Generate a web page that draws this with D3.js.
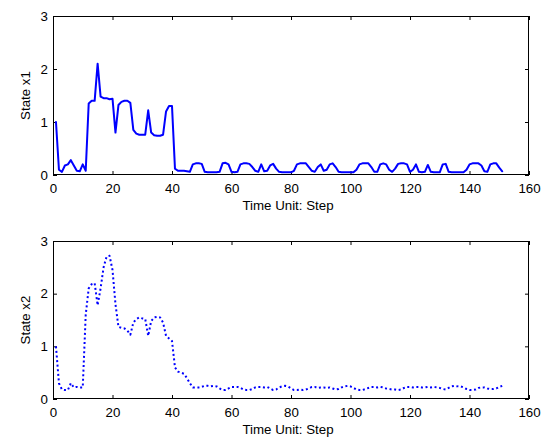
<!DOCTYPE html>
<html>
<head>
<meta charset="utf-8">
<script src="https://cdn.jsdelivr.net/npm/d3@7"></script>
<style>
  html, body { margin: 0; padding: 0; background: #fff; }
  svg { display: block; }
  text { font-family: Arial, "Liberation Sans", sans-serif; fill: #000; }
</style>
</head>
<body>
<svg id="chart" width="548" height="441"></svg>
<script>
// Simulated state trajectories, one value per time step (steps 1..151)
const stepStart = 1;
const stateX1 = [
  1.0, 0.1, 0.06, 0.18, 0.2, 0.28, 0.18, 0.08, 0.07, 0.2,
  0.08, 1.35, 1.4, 1.4, 2.1, 1.48, 1.45, 1.45, 1.43, 1.44,
  0.8, 1.32, 1.38, 1.4, 1.4, 1.36, 0.85, 0.78, 0.76, 0.76,
  0.76, 1.22, 0.8, 0.75, 0.74, 0.74, 0.76, 1.2, 1.3, 1.3,
  0.12, 0.08, 0.08, 0.08, 0.07, 0.06, 0.2, 0.22, 0.22, 0.21,
  0.06, 0.05, 0.05, 0.05, 0.05, 0.06, 0.22, 0.23, 0.2, 0.06,
  0.05, 0.06, 0.2, 0.22, 0.22, 0.21, 0.15, 0.08, 0.06, 0.2,
  0.07, 0.08, 0.18, 0.21, 0.12, 0.06, 0.05, 0.05, 0.05, 0.05,
  0.08, 0.2, 0.22, 0.22, 0.22, 0.15, 0.08, 0.06, 0.15, 0.2,
  0.08, 0.1, 0.2, 0.22, 0.15, 0.06, 0.05, 0.05, 0.05, 0.05,
  0.05, 0.1, 0.2, 0.22, 0.22, 0.22, 0.15, 0.06, 0.06, 0.2,
  0.22, 0.2, 0.1, 0.06, 0.12, 0.21, 0.22, 0.22, 0.2, 0.06,
  0.1, 0.2, 0.06, 0.05, 0.06, 0.19, 0.06, 0.05, 0.05, 0.05,
  0.2, 0.21, 0.06, 0.05, 0.05, 0.05, 0.05, 0.05, 0.1, 0.2,
  0.22, 0.22, 0.22, 0.18, 0.07, 0.06, 0.2, 0.22, 0.22, 0.14,
  0.07
];
const stateX2 = [
  1.0, 0.3, 0.18, 0.17, 0.17, 0.3, 0.22, 0.23, 0.22, 0.22,
  1.6, 2.1, 2.18, 2.2, 1.78, 2.1, 2.5, 2.7, 2.72, 2.45,
  1.8, 1.37, 1.35, 1.34, 1.3, 1.22, 1.45, 1.52, 1.55, 1.53,
  1.52, 1.2, 1.48, 1.55, 1.56, 1.55, 1.45, 1.2, 1.15, 1.1,
  0.6, 0.52, 0.5, 0.48, 0.4, 0.3, 0.22, 0.22, 0.22, 0.23,
  0.25, 0.25, 0.24, 0.25, 0.24, 0.2, 0.17, 0.17, 0.2, 0.23,
  0.23, 0.23, 0.21, 0.18, 0.17, 0.17, 0.19, 0.22, 0.23, 0.23,
  0.22, 0.23, 0.2, 0.17, 0.18, 0.22, 0.24, 0.25, 0.24, 0.2,
  0.17, 0.17, 0.18, 0.17, 0.18, 0.2, 0.23, 0.23, 0.21, 0.22,
  0.22, 0.21, 0.22, 0.2, 0.18, 0.19, 0.22, 0.24, 0.25, 0.24,
  0.21, 0.18, 0.17, 0.17, 0.19, 0.21, 0.23, 0.23, 0.22, 0.23,
  0.22, 0.2, 0.19, 0.18, 0.18, 0.17, 0.18, 0.21, 0.23, 0.23,
  0.22, 0.23, 0.23, 0.22, 0.22, 0.23, 0.22, 0.23, 0.22, 0.21,
  0.19, 0.18, 0.21, 0.24, 0.25, 0.24, 0.24, 0.22, 0.19, 0.17,
  0.17, 0.18, 0.21, 0.22, 0.22, 0.2, 0.19, 0.19, 0.2, 0.23,
  0.25
];
const xTicks = [0, 20, 40, 60, 80, 100, 120, 140, 160];
const yTicks = [0, 1, 2, 3];
const xLabel = "Time Unit: Step";
const panelLabels = ["State x1", "State x2"];

const svg = d3.select("#chart");
const left = 53, right = 529;
const panels = [
  { top: 16, bottom: 175, values: stateX1, label: panelLabels[0], dash: null },
  { top: 241, bottom: 399, values: stateX2, label: panelLabels[1], dash: "2,2.6" }
];

const x = d3.scaleLinear().domain([0, 160]).range([left, right]);
const fontSize = 13.3;
const tick = 4;

panels.forEach(p => {
  const y = d3.scaleLinear().domain([0, 3]).range([p.bottom, p.top]);
  const g = svg.append("g");

  // bottom axis with labels, ticks pointing inward
  const bx = g.append("g").attr("transform", `translate(0,${p.bottom})`)
    .call(d3.axisBottom(x).tickValues(xTicks).tickFormat(d3.format("d"))
      .tickSizeInner(-tick).tickSizeOuter(0).tickPadding(8.5));
  // top axis, ticks only
  const tx = g.append("g").attr("transform", `translate(0,${p.top})`)
    .call(d3.axisTop(x).tickValues(xTicks).tickFormat("")
      .tickSizeInner(-tick).tickSizeOuter(0));
  // left axis with labels
  const ly = g.append("g").attr("transform", `translate(${left},0)`)
    .call(d3.axisLeft(y).tickValues(yTicks).tickFormat(d3.format("d"))
      .tickSizeInner(-tick).tickSizeOuter(0).tickPadding(5));
  // right axis, ticks only
  const ry = g.append("g").attr("transform", `translate(${right},0)`)
    .call(d3.axisRight(y).tickValues(yTicks).tickFormat("")
      .tickSizeInner(-tick).tickSizeOuter(0));

  [bx, tx, ly, ry].forEach(a => {
    a.select(".domain").remove();
    a.selectAll(".tick line").attr("stroke", "#000").attr("stroke-width", 1);
    a.selectAll("text").attr("font-size", fontSize)
      .attr("font-family", "Arial, 'Liberation Sans', sans-serif").attr("fill", "#000");
  });

  // frame
  g.append("rect")
    .attr("x", left + 0.5).attr("y", p.top + 0.5)
    .attr("width", right - left - 1).attr("height", p.bottom - p.top - 1)
    .attr("fill", "none").attr("stroke", "#000").attr("stroke-width", 1);

  // data line
  const line = d3.line()
    .x((d, i) => x(stepStart + i))
    .y(d => y(d));
  const path = g.append("path")
    .datum(p.values)
    .attr("d", line)
    .attr("fill", "none")
    .attr("stroke", "#0000ff")
    .attr("stroke-width", 2)
    .attr("stroke-linejoin", "round");
  if (p.dash) path.attr("stroke-dasharray", p.dash).attr("stroke-linecap", "butt");
  else path.attr("stroke-linecap", "round");

  // axis titles
  g.append("text")
    .attr("x", (left + right) / 2 - 3)
    .attr("y", p.bottom + 35)
    .attr("text-anchor", "middle")
    .attr("font-size", fontSize)
    .text(xLabel);
  g.append("text")
    .attr("transform", `translate(30,${(p.top + p.bottom) / 2}) rotate(-90)`)
    .attr("text-anchor", "middle")
    .attr("font-size", fontSize)
    .text(p.label);
});
</script>
</body>
</html>
